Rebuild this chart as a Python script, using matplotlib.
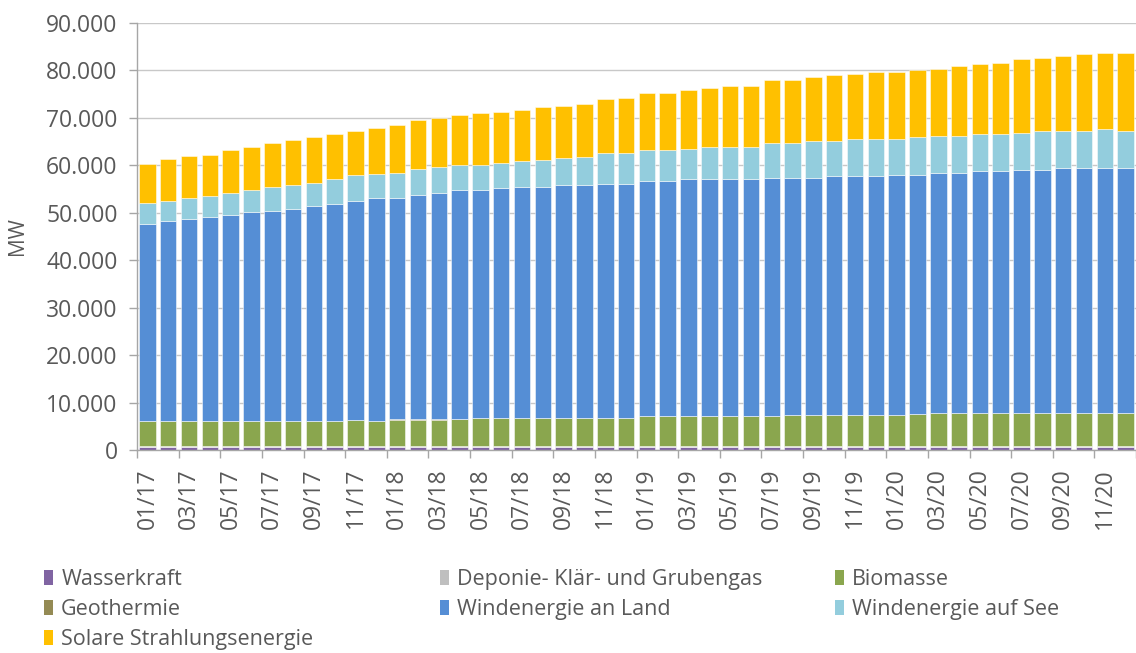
import matplotlib.pyplot as plt
import numpy as np
from matplotlib.patches import Patch
from matplotlib.ticker import FuncFormatter

plt.rcParams['font.family'] = ['Open Sans', 'DejaVu Sans']

# Data (MW), monthly 01/2017 - 12/2020
months = [f"{m:02d}/{y}" for y in (17, 18, 19, 20) for m in range(1, 13)]

wasserkraft = [550] * 14 + [720] * 34
deponie = [220] * 48
geothermie = [35] * 48
biomasse = [5275] * 10 + [5545, 5275, 5625, 5625, 5455, 5575] + [5795] * 8 \
    + [6155] * 7 + [6435, 6435, 6505, 6505, 6435, 6505, 6715] + [6855] * 10
wind_land = [41660, 42290, 42570, 42990, 43410, 43980, 44260, 44620, 45250, 45670,
             46040, 46960, 46640, 47360, 47700, 48210, 47990, 48410, 48700, 48700,
             49040, 49040, 49400, 49390, 49650, 49650, 49920, 49920, 49920, 49920,
             50280, 50000, 50000, 50290, 50290, 50390, 50560, 50350, 50630, 50630,
             50910, 50910, 51260, 51260, 51620, 51620, 51620, 51620]
wind_see = [4370, 4080, 4520, 4440, 4740, 4800, 5160, 5220, 4930, 5440,
            5500, 5210, 5410, 5470, 5470, 5410, 5410, 5350, 5390, 5750,
            5770, 6040, 6380, 6380, 6380, 6380, 6400, 6740, 6740, 6740,
            7370, 7370, 7730, 7370, 7700, 7760, 7520, 7850, 7790, 7790,
            7790, 7790, 7790, 8150, 7790, 7790, 8130, 7790]
solar = [8100, 8820, 8730, 8750, 9090, 9090, 9150, 9370, 9720, 9430,
         9450, 9720, 10110, 10380, 10320, 10460, 10800, 10800, 10740, 11100,
         11010, 11100, 11450, 11720, 12140, 12140, 12490, 12500, 12840, 12840,
         13200, 13200, 13530, 13810, 13840, 14100, 14100, 14110, 14110, 14740,
         14820, 15090, 15440, 15430, 15790, 16130, 16150, 16490]

series = [
    ("Wasserkraft", wasserkraft, "#8064A2"),
    ("Deponie- Klär- und Grubengas", deponie, "#BFBFBF"),
    ("Biomasse", biomasse, "#8AA64E"),
    ("Geothermie", geothermie, "#948A54"),
    ("Windenergie an Land", wind_land, "#558ED5"),
    ("Windenergie auf See", wind_see, "#93CDDD"),
    ("Solare Strahlungsenergie", solar, "#FFC000"),
]

text_col = "#595959"
x = np.arange(len(months))

fig = plt.figure(figsize=(11.36, 6.53), dpi=100)
ax = fig.add_axes([137 / 1136, 1 - 450 / 653, 999 / 1136, 427 / 653])

bottom = np.zeros(len(months))
for name, vals, col in series:
    ax.bar(x, vals, 0.79, bottom=bottom, color=col, label=name,
           edgecolor=(1, 1, 1, 0.5), linewidth=0.7)
    bottom += np.array(vals)

ax.set_xlim(-0.5, len(months) - 0.5)
ax.set_ylim(0, 90000)
ax.set_yticks(np.arange(0, 90001, 10000))
ax.yaxis.set_major_formatter(FuncFormatter(lambda v, p: f"{v:,.0f}".replace(",", ".")))
ax.grid(axis='y', color='#C8C8C8', linewidth=1.0)
ax.set_axisbelow(True)

ax.set_xticks(x[::2])
ax.set_xticklabels(months[::2], rotation=90)
ax.set_xticks(np.arange(-0.5, len(months), 2), minor=True)
ax.tick_params(axis='x', which='major', length=0, pad=13, labelsize=16.5, labelcolor=text_col)
ax.tick_params(axis='x', which='minor', length=6, color='#A6A6A6', width=1)
ax.tick_params(axis='y', length=6, color='#A6A6A6', width=1, pad=8,
               labelsize=16.5, labelcolor=text_col)

for s in ('top', 'right'):
    ax.spines[s].set_visible(False)
for s in ('left', 'bottom'):
    ax.spines[s].set_color('#A6A6A6')
    ax.spines[s].set_linewidth(1)

ax.set_ylabel("MW", fontsize=15, color=text_col, labelpad=13)

# legend: three columns placed separately
handles = [Patch(facecolor=c, label=n) for n, _, c in series]
cols = [[handles[0], handles[3], handles[6]],
        [handles[1], handles[4]],
        [handles[2], handles[5]]]
for hs, xpos in zip(cols, (44 / 1136, 440 / 1136, 835 / 1136)):
    fig.legend(handles=hs, loc='upper left', bbox_to_anchor=(xpos, 1 - 569 / 653),
               frameon=False, fontsize=15.5, labelcolor=text_col,
               handlelength=0.4, handleheight=0.7, handletextpad=0.4,
               labelspacing=0.42, borderaxespad=0, borderpad=0)

fig.savefig("out.png", dpi=100)
